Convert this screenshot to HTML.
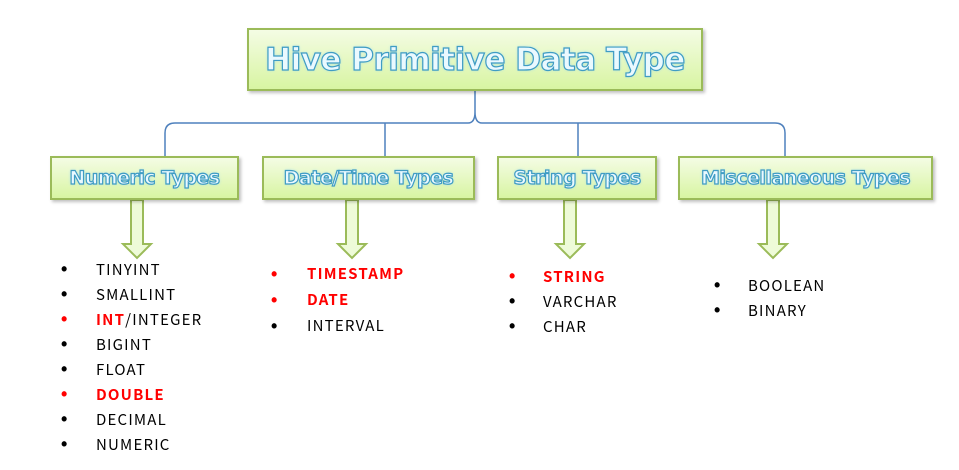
<!DOCTYPE html>
<html><head><meta charset="utf-8"><style>
body{margin:0;width:959px;height:470px;background:#fff;position:relative;overflow:hidden;font-family:"Liberation Sans",sans-serif}
.box{position:absolute;box-sizing:border-box;border:2px solid #9bbb59;background:linear-gradient(#f4fce4,#d8f5a2);box-shadow:2px 2px 3px rgba(0,0,0,.25);display:flex;align-items:center;justify-content:center;color:#eaf9ff;font-family:"DejaVu Sans","Liberation Sans",sans-serif;font-weight:bold;-webkit-text-stroke:1.2px #3f9cc4;text-shadow:0 0 3px #9fd8ee;white-space:nowrap;letter-spacing:-0.5px}
.t{position:absolute;font-family:"Noto Sans CJK SC","Liberation Sans",sans-serif;font-size:15px;letter-spacing:1.2px;line-height:25px;color:#000;white-space:nowrap}
.u{position:absolute;font-family:"Liberation Sans",sans-serif;font-size:18px;line-height:25px;font-weight:bold;color:#000}
.r{color:#f00;font-weight:bold}
</style></head><body>
<svg width="959" height="470" style="position:absolute;left:0;top:0">
<path d="M475 91 V112 Q475 123 468 123 H175 Q165 123 165 133 V156 M475 112 Q475 123 482 123 H775 Q785 123 785 133 V156 M385 123 V156 M578 123 V156" fill="none" stroke="#4f81bd" stroke-width="1.5"/>
<g fill="#eefbd8" stroke="#9bbb59" stroke-width="2">
<path d="M131 200 H143 V244 H151 L137 258 L123 244 H131 Z"/>
<path d="M346 200 H358 V244 H366 L352 258 L338 244 H346 Z"/>
<path d="M564 200 H576 V244 H584 L570 258 L556 244 H564 Z"/>
<path d="M767 200 H779 V244 H787 L773 258 L759 244 H767 Z"/>
</g>
</svg>
<div class="box" style="left:247px;top:28px;width:456px;height:63px;font-size:31px">Hive Primitive Data Type</div>
<div class="box" style="left:50px;top:156px;width:189px;height:44px;font-size:19px">Numeric Types</div>
<div class="box" style="left:262px;top:156px;width:213px;height:44px;font-size:19px">Date/Time Types</div>
<div class="box" style="left:497px;top:156px;width:160px;height:44px;font-size:19px">String Types</div>
<div class="box" style="left:678px;top:156px;width:255px;height:44px;font-size:19px">Miscellaneous Types</div>

<div class="u" style="left:61px;top:257px">•<br>•<br><span style="color:#f00">•</span><br>•<br>•<br><span style="color:#f00">•</span><br>•<br>•</div>
<div class="t" style="left:96px;top:257px">TINYINT<br>SMALLINT<br><span class="r">INT</span>/INTEGER<br>BIGINT<br>FLOAT<br><span class="r">DOUBLE</span><br>DECIMAL<br>NUMERIC</div>

<div class="u" style="left:271px;top:261px;line-height:26px"><span style="color:#f00">•</span><br><span style="color:#f00">•</span><br>•</div>
<div class="t" style="left:307px;top:261px;line-height:26px"><span class="r">TIMESTAMP</span><br><span class="r">DATE</span><br>INTERVAL</div>

<div class="u" style="left:509px;top:264px"><span style="color:#f00">•</span><br>•<br>•</div>
<div class="t" style="left:543px;top:264px"><span class="r">STRING</span><br>VARCHAR<br>CHAR</div>

<div class="u" style="left:714px;top:273px">•<br>•</div>
<div class="t" style="left:748px;top:273px">BOOLEAN<br>BINARY</div>
</body></html>
